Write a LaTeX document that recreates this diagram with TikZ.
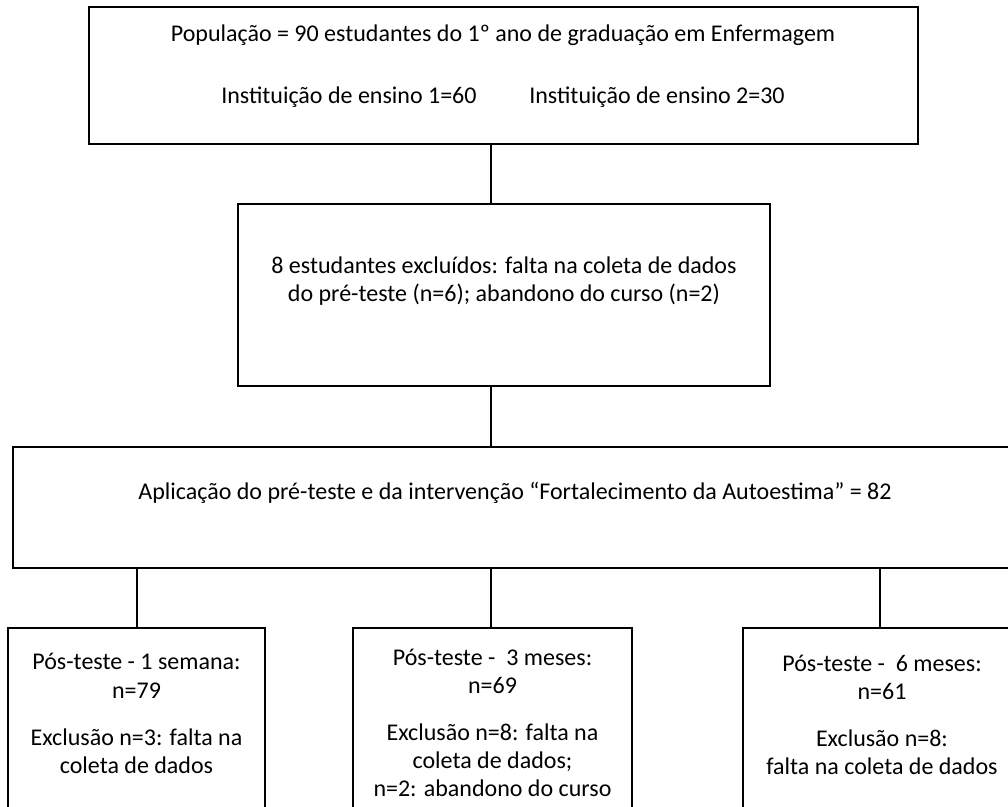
\documentclass[tikz,border=0pt]{standalone}
\usepackage{fontspec}
\setmainfont{Carlito}
\begin{document}
\begin{tikzpicture}[x=0.75pt,y=-0.75pt,
  box/.style={draw=black,line width=1.5pt,rectangle,inner sep=0pt},
  conn/.style={draw=black,line width=0.8pt},
  txt/.style={align=center,inner sep=0pt,font=\fontsize{18}{21.2}\selectfont}]
\useasboundingbox (0,0) rectangle (1008,807);
% boxes
\node[box,minimum width=621.75pt,minimum height=102.4pt] (b1) at (503.5,75.75) {};
\node[box,minimum width=399pt,minimum height=136.5pt] (b2) at (504,295) {};
\node[box,minimum width=780pt,minimum height=90.75pt] (b3) at (533,507.5) {};
\node[box,minimum width=192.75pt,minimum height=151.5pt] (b4) at (136.5,729) {};
\node[box,minimum width=209.25pt,minimum height=151.5pt] (b5) at (492.5,729) {};
\node[box,minimum width=225pt,minimum height=151.5pt] (b6) at (893,729) {};
% texts
\node[txt] (t1a) at (503,35) {População = 90 estudantes do 1º ano de graduação em Enfermagem};
\node[txt,anchor=west] (t1b) at (221,97) {Instituição de ensino 1=60};
\node[txt,anchor=east] (t1c) at (785,97) {Instituição de ensino 2=30};
\node[txt] (t2) at (504,281) {8 estudantes excluídos: falta na coleta de dados\\do pré-teste (n=6); abandono do curso (n=2)};
\node[txt] (t3) at (515,493) {Aplicação do pré-teste e da intervenção “Fortalecimento da Autoestima” = 82};
\node[txt] (t4) at (136.5,713.5) {Pós-teste - 1 semana:\\n=79\\[14pt]Exclusão n=3: falta na\\coleta de dados};
\node[txt] (t5) at (492.5,723) {Pós-teste -~ 3 meses:\\n=69\\[14pt]Exclusão n=8: falta na\\coleta de dados;\\n=2: abandono do curso};
\node[txt] (t6) at (882,715) {Pós-teste -~ 6 meses:\\n=61\\[14pt]Exclusão n=8:\\falta na coleta de dados};
% connector columns
\coordinate (cm) at (491,0);
\coordinate (cl) at (137,0);
\coordinate (cr) at (880,0);
\draw[conn] (b1.south -| cm) -- (b2.north -| cm);
\draw[conn] (b2.south -| cm) -- (b3.north -| cm);
\draw[conn] (b3.south -| cl) -- (b4.north -| cl);
\draw[conn] (b3.south -| cm) -- (b5.north -| cm);
\draw[conn] (b3.south -| cr) -- (b6.north -| cr);
\end{tikzpicture}
\end{document}
